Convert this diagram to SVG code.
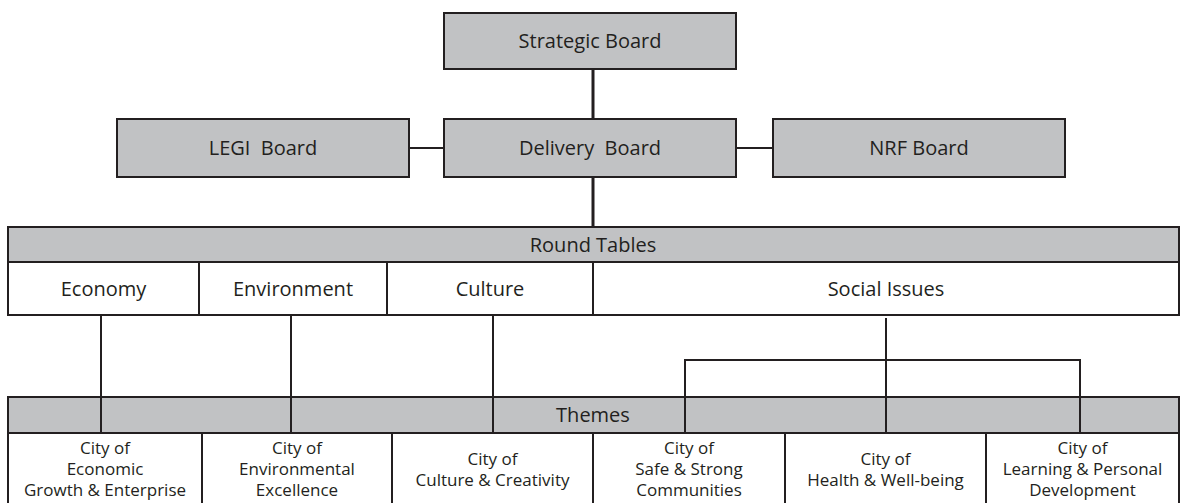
<svg xmlns="http://www.w3.org/2000/svg" width="1186" height="503" viewBox="0 0 1186 503">
  <style>
    .g { fill: #c1c2c4; stroke: #231f20; stroke-width: 2; }
    .w { fill: #ffffff; stroke: #231f20; stroke-width: 2; }
    .t { font-family: "Open Sans", "Liberation Sans", sans-serif; font-size: 20px; fill: #231f20; text-anchor: middle; white-space: pre; }
    .s { font-family: "Open Sans", "Liberation Sans", sans-serif; font-size: 17px; fill: #231f20; text-anchor: middle; }
    .c { fill: none; stroke: #231f20; stroke-width: 2; }
    .ct { fill: none; stroke: #231f20; stroke-width: 3; }
  </style>
  <rect width="1186" height="503" fill="#ffffff"/>

  <g id="strategic-board">
    <rect class="g" x="444" y="13" width="292" height="56"/>
    <text class="t" x="590" y="48">Strategic Board</text>
  </g>
  <g id="legi-board">
    <rect class="g" x="117" y="119" width="292" height="58"/>
    <text class="t" x="263" y="155" xml:space="preserve">LEGI  Board</text>
  </g>
  <g id="delivery-board">
    <rect class="g" x="444" y="119" width="292" height="58"/>
    <text class="t" x="590" y="155" xml:space="preserve">Delivery  Board</text>
  </g>
  <g id="nrf-board">
    <rect class="g" x="773" y="119" width="292" height="58"/>
    <text class="t" x="919" y="155">NRF Board</text>
  </g>

  <g id="round-tables">
    <rect class="g" x="8" y="227" width="1171" height="35"/>
    <text class="t" x="593" y="252">Round Tables</text>
  </g>
  <g id="economy">
    <rect class="w" x="8" y="262" width="191" height="53"/>
    <text class="t" x="103.5" y="296">Economy</text>
  </g>
  <g id="environment">
    <rect class="w" x="199" y="262" width="188" height="53"/>
    <text class="t" x="293" y="296">Environment</text>
  </g>
  <g id="culture">
    <rect class="w" x="387" y="262" width="206" height="53"/>
    <text class="t" x="490" y="296">Culture</text>
  </g>
  <g id="social-issues">
    <rect class="w" x="593" y="262" width="586" height="53"/>
    <text class="t" x="886" y="296">Social Issues</text>
  </g>

  <g id="themes">
    <rect class="g" x="8" y="397" width="1171" height="36"/>
    <text class="t" x="593" y="422">Themes</text>
  </g>

  <g id="connectors">
    <line class="ct" x1="593" y1="69" x2="593" y2="119"/>
    <line class="ct" x1="593" y1="177" x2="593" y2="227"/>
    <line class="c" x1="409" y1="148" x2="444" y2="148"/>
    <line class="c" x1="736" y1="148" x2="773" y2="148"/>
    <line class="c" x1="101" y1="315" x2="101" y2="433"/>
    <line class="c" x1="291" y1="315" x2="291" y2="433"/>
    <line class="c" x1="493" y1="315" x2="493" y2="433"/>
    <line class="c" x1="886" y1="318" x2="886" y2="433"/>
    <polyline class="c" points="685,433 685,360 1080,360 1080,433"/>
  </g>

  <g id="theme-economic">
    <rect class="w" x="8" y="433" width="194" height="80"/>
    <text class="s" x="105" y="454">City of</text>
    <text class="s" x="105" y="475">Economic</text>
    <text class="s" x="105" y="496">Growth &amp; Enterprise</text>
  </g>
  <g id="theme-environmental">
    <rect class="w" x="202" y="433" width="190" height="80"/>
    <text class="s" x="297" y="454">City of</text>
    <text class="s" x="297" y="475">Environmental</text>
    <text class="s" x="297" y="496">Excellence</text>
  </g>
  <g id="theme-culture">
    <rect class="w" x="392" y="433" width="201" height="80"/>
    <text class="s" x="492.5" y="464.5">City of</text>
    <text class="s" x="492.5" y="485.5">Culture &amp; Creativity</text>
  </g>
  <g id="theme-safe">
    <rect class="w" x="593" y="433" width="192" height="80"/>
    <text class="s" x="689" y="454">City of</text>
    <text class="s" x="689" y="475">Safe &amp; Strong</text>
    <text class="s" x="689" y="496">Communities</text>
  </g>
  <g id="theme-health">
    <rect class="w" x="785" y="433" width="201" height="80"/>
    <text class="s" x="885.5" y="464.5">City of</text>
    <text class="s" x="885.5" y="485.5">Health &amp; Well-being</text>
  </g>
  <g id="theme-learning">
    <rect class="w" x="986" y="433" width="193" height="80"/>
    <text class="s" x="1082.5" y="454">City of</text>
    <text class="s" x="1082.5" y="475">Learning &amp; Personal</text>
    <text class="s" x="1082.5" y="496">Development</text>
  </g>
</svg>
